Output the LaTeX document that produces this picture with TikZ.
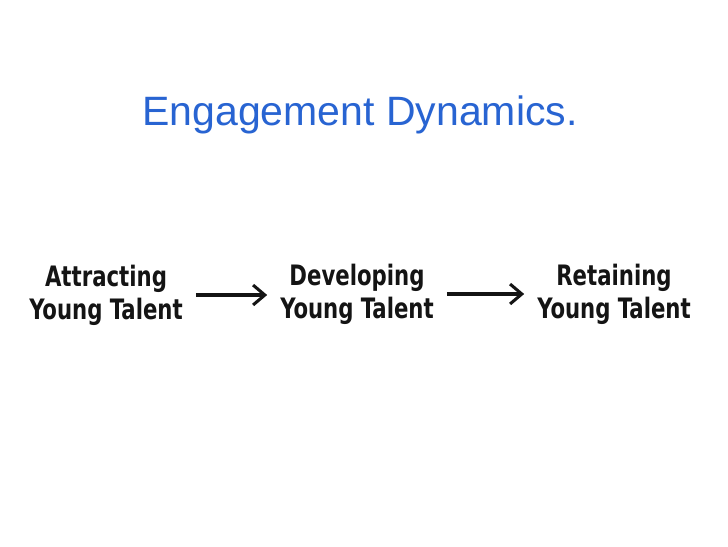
\documentclass[tikz,border=0pt]{standalone}
\usepackage{fontspec}
\usepackage{tikz}
\usetikzlibrary{arrows.meta, positioning}
\newfontfamily\stagefont{DejaVu Sans Condensed}[BoldFont={DejaVu Sans Condensed Bold}, BoldFeatures={FakeStretch=0.84}]
\newfontfamily\titlefont{Liberation Sans}
\definecolor{inkBlue}{RGB}{40,100,210}
\definecolor{inkBlack}{RGB}{20,20,20}

\begin{document}
\begin{tikzpicture}[
  x=0.03cm, y=-0.03cm,
  stage/.style={
    align=center, inner sep=0pt,
    font=\stagefont\bfseries\fontsize{24}{28}\selectfont,
    text=inkBlack
  },
  arr/.style={-{Straight Barb[length=10pt,width=17pt]}, line width=2.6pt, inkBlack}
]
  \useasboundingbox (0,0) rectangle (728,546);
  \fill[white] (0,0) rectangle (728,546);

  \node[font=\titlefont\fontsize{35}{40}\selectfont, text=inkBlue]
    (title) at (360,115) {Engagement Dynamics.};

  \node[stage] (attract) at (106,295) {Attracting\\Young Talent};
  \node[stage] (develop) at (357,294) {Developing\\Young Talent};
  \node[stage] (retain)  at (614,294) {Retaining\\Young Talent};

  \foreach \a/\b in {attract/develop, develop/retain}
    \draw[arr] ([xshift=11pt]\a.east) -- ([xshift=-11pt]\b.west |- \a.east);
\end{tikzpicture}
\end{document}
